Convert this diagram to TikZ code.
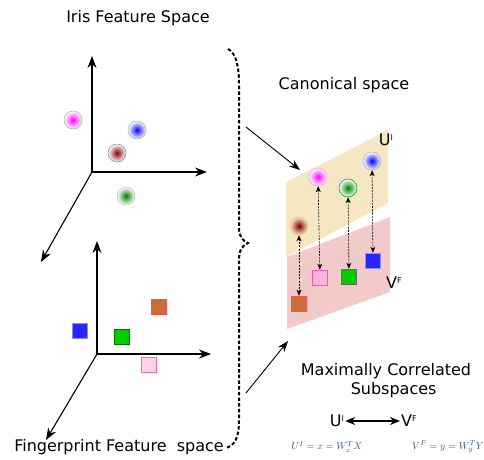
\documentclass[tikz,border=0pt]{standalone}
\usepackage{fontspec}
\setmainfont{DejaVu Sans}
\usetikzlibrary{arrows.meta,calc}
\definecolor{tanbg}{HTML}{F5E6C4}
\definecolor{pinkbg}{HTML}{F2CACA}
\definecolor{mathblue}{HTML}{2F4F8F}
\tikzset{
  axis/.style={line width=1.1pt,-{Stealth[length=12pt,width=9pt]}},
  maparrow/.style={line width=0.9pt,-{Stealth[length=11pt,width=8pt]}},
  link/.style={line width=0.6pt,dash pattern=on 2pt off 1.2pt,{Stealth[length=6pt,width=5pt]}-{Stealth[length=6pt,width=5pt]}},
  lbl/.style={font=\fontsize{16}{19}\selectfont,inner sep=0pt},
  dot/.style={circle,minimum size=18pt,inner sep=0pt,draw=gray!70,line width=0.5pt},
  sq/.style={rectangle,minimum size=15pt,inner sep=0pt,line width=1.6pt},
  formula/.style={text=mathblue,font=\fontsize{10}{12}\selectfont,inner sep=0pt}
}
\begin{document}
\begin{tikzpicture}[x=1pt,y=-1pt]
\useasboundingbox (0,0) rectangle (484,459);
% titles
\node[lbl] (t1) at (138,18) {Iris Feature Space};
\node[lbl] (t2) at (344,85) {Canonical space};
\node[lbl] (t3) at (119,447) {Fingerprint Feature\ \ space};
\node[lbl,align=center] (t4) at (386,381) {Maximally Correlated\\[0pt]\ \ \ Subspaces};
% iris axes
\coordinate (o1) at (92,172);
\coordinate (y1) at (92,56);
\coordinate (x1) at (207,172);
\coordinate (z1) at (41,262);
\draw[axis] (o1) -- (y1);
\draw[axis] (o1) -- (x1);
\draw[axis] (o1) -- (z1);
\node[dot,inner color=magenta,outer color=white] (im) at (73,120) {};
\node[dot,inner color=blue,outer color=white] (ib) at (137,130) {};
\node[dot,inner color=red!50!black,outer color=white,draw=gray] (ir) at (117,153) {};
\node[dot,inner color=green!50!black,outer color=white,draw=gray!50] (ig) at (126,196) {};
% fingerprint axes
\coordinate (o2) at (97,354);
\coordinate (y2) at (97,241);
\coordinate (x2) at (211,354);
\coordinate (z2) at (46,440);
\draw[axis] (o2) -- (y2);
\draw[axis] (o2) -- (x2);
\draw[axis] (o2) -- (z2);
\node[sq,fill=blue!85!white,draw=blue!45!white] (fb) at (80,331) {};
\node[sq,fill=green!80!black,draw=green!45!black] (fg) at (122,337) {};
\node[sq,fill=brown!85!red,draw=red!70!white] (fr) at (159,307) {};
\node[sq,fill=magenta!18!white,draw=magenta!60!white] (fp) at (149,365) {};
% brace
\draw[line width=2pt,dash pattern=on 3.5pt off 2.2pt]
  (228,49) .. controls (236,53) and (239,66) .. (239,84) -- (239,228)
  .. controls (239,237) and (243,241) .. (248,243)
  .. controls (243,245) and (239,249) .. (239,260) -- (239,420)
  .. controls (239,438) and (235,445) .. (226,448);
% canonical planes
\fill[tanbg] (286,182) -- (388,130) -- (388,203) -- (286,257) -- cycle;
\fill[pinkbg] (287,257) -- (390,217) -- (390,292) -- (287,329) -- cycle;
\node[inner sep=0pt] (ul) at (386,140) {\fontsize{16}{19}\selectfont U\raisebox{5pt}{\fontsize{8}{9}\selectfont I}};
\node[inner sep=0pt] (vl) at (394,283) {\fontsize{16}{19}\selectfont V\raisebox{5pt}{\fontsize{8}{9}\selectfont F}};
% canonical points
\node[dot,inner color=red!50!black,outer color=tanbg,draw=orange!60] (cr) at (299,226) {};
\node[dot,inner color=magenta,outer color=white,draw=magenta!40] (cm) at (318,177) {};
\node[dot,inner color=green!50!black,outer color=white,draw=green!60!black] (cg) at (348,188) {};
\node[dot,inner color=blue,outer color=white] (cb) at (372,161) {};
\node[sq,fill=brown!85!red,draw=red!70!white] (sr) at (299,304) {};
\node[sq,fill=magenta!30!white,draw=magenta!65!white] (sp) at (320,278) {};
\node[sq,fill=green!80!black,draw=gray!80!black] (sg) at (349,277) {};
\node[sq,fill=blue!85!white,draw=blue!45!white] (sb) at (373,261) {};
\draw[link] (cr) -- (sr);
\draw[link] (cm) -- (sp);
\draw[link] (cg) -- (sg);
\draw[link] (cb) -- (sb);
% mapping arrows
\coordinate (a1s) at (246,127);
\coordinate (a1e) at (300,170);
\coordinate (a2s) at (246,393);
\coordinate (a2e) at (288,341);
\draw[maparrow] (a1s) -- (a1e);
\draw[maparrow] (a2s) -- (a2e);
% bottom relation
\node[inner sep=0pt] (bu) at (337,421) {\fontsize{16}{19}\selectfont U\raisebox{5pt}{\fontsize{8}{9}\selectfont I}};
\node[inner sep=0pt] (bv) at (409,421) {\fontsize{16}{19}\selectfont V\raisebox{5pt}{\fontsize{8}{9}\selectfont F}};
\draw[line width=1.4pt,{Stealth[length=10pt,width=8pt]}-{Stealth[length=10pt,width=8pt]},shorten <=1pt,shorten >=1pt] (bu.east) -- (bv.west);
\node[formula] (f1) at (327,447) {$U^I = x = W_x^T X$};
\node[formula,anchor=west] (f2) at (412,447) {$V^F = y = W_y^T Y$};
\end{tikzpicture}
\end{document}
